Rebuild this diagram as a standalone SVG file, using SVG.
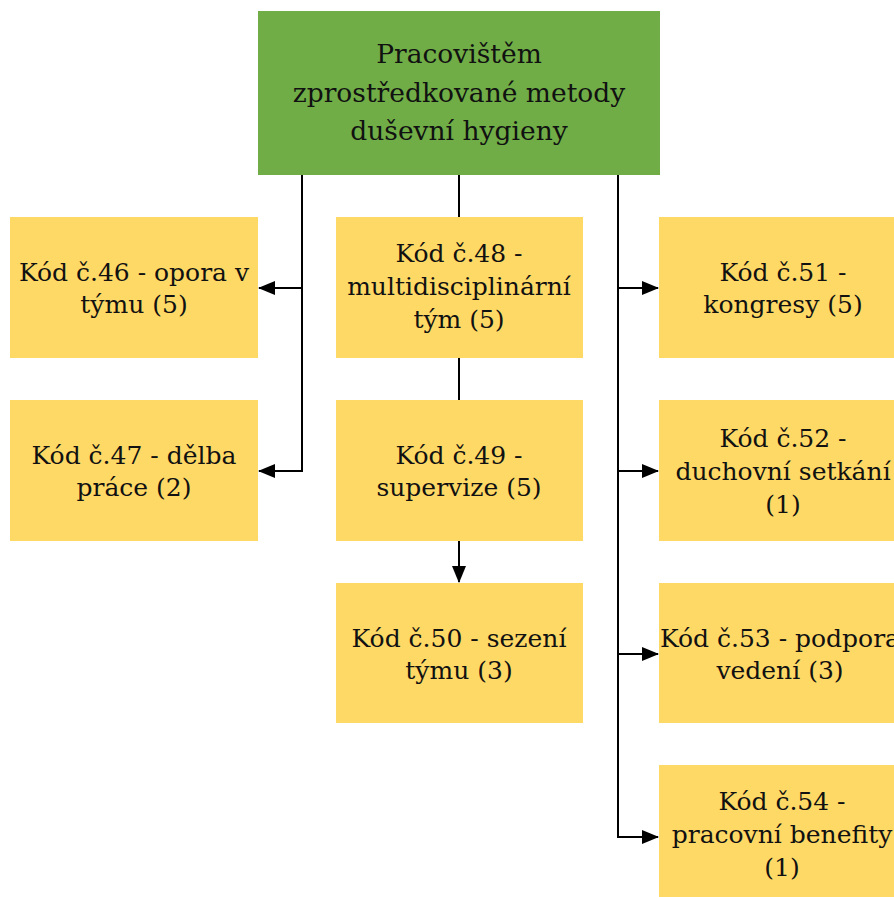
<svg xmlns="http://www.w3.org/2000/svg" width="894" height="897" viewBox="0 0 894 897">
<style>
.box{fill:#FFD966}
.root{fill:#70AD47}
text{font-family:'DejaVu Serif','Liberation Serif',serif;fill:#111;text-anchor:middle}
.t{font-size:25px}
.tr{font-size:26.5px}
.c{stroke:#000;stroke-width:2;fill:none}
</style>
<defs>
<marker id="ah" markerUnits="userSpaceOnUse" markerWidth="17" markerHeight="14" refX="16" refY="7" orient="auto">
<path d="M0,0 L17,7 L0,14 z" fill="#000"/>
</marker>
</defs>
<rect width="894" height="897" fill="#fff"/>
<g id="connectors">
<path class="c" d="M302,175 V472"/>
<path class="c" d="M303,288 H259" marker-end="url(#ah)"/>
<path class="c" d="M303,471 H259" marker-end="url(#ah)"/>
<path class="c" d="M459,175 V217"/>
<path class="c" d="M459,358 V400"/>
<path class="c" d="M459,541 V582" marker-end="url(#ah)"/>
<path class="c" d="M618,175 V838"/>
<path class="c" d="M617,288 H658" marker-end="url(#ah)"/>
<path class="c" d="M617,471 H658" marker-end="url(#ah)"/>
<path class="c" d="M617,654 H658" marker-end="url(#ah)"/>
<path class="c" d="M617,837 H658" marker-end="url(#ah)"/>
</g>
<g id="root">
<rect class="root" x="258" y="11" width="402" height="164"/>
<text class="tr" x="459" y="63">Pracovištěm</text>
<text class="tr" x="459" y="102">zprostředkované metody</text>
<text class="tr" x="459" y="140">duševní hygieny</text>
</g>
<g id="k46">
<rect class="box" x="10" y="217" width="248" height="141"/>
<text class="t" x="134" y="281">Kód č.46 - opora v</text>
<text class="t" x="134" y="313">týmu (5)</text>
</g>
<g id="k47">
<rect class="box" x="10" y="400" width="248" height="141"/>
<text class="t" x="134" y="464">Kód č.47 - dělba</text>
<text class="t" x="134" y="496">práce (2)</text>
</g>
<g id="k48">
<rect class="box" x="336" y="217" width="247" height="141"/>
<text class="t" x="459" y="262">Kód č.48 -</text>
<text class="t" x="459" y="295">multidisciplinární</text>
<text class="t" x="459" y="328">tým (5)</text>
</g>
<g id="k49">
<rect class="box" x="336" y="400" width="247" height="141"/>
<text class="t" x="459" y="464">Kód č.49 -</text>
<text class="t" x="459" y="496">supervize (5)</text>
</g>
<g id="k50">
<rect class="box" x="336" y="583" width="247" height="140"/>
<text class="t" x="459" y="647">Kód č.50 - sezení</text>
<text class="t" x="459" y="679">týmu (3)</text>
</g>
<g id="k51">
<rect class="box" x="659" y="217" width="248" height="141"/>
<text class="t" x="783" y="281">Kód č.51 -</text>
<text class="t" x="783" y="313">kongresy (5)</text>
</g>
<g id="k52">
<rect class="box" x="659" y="400" width="248" height="141"/>
<text class="t" x="783" y="447">Kód č.52 -</text>
<text class="t" x="783" y="480">duchovní setkání</text>
<text class="t" x="783" y="513">(1)</text>
</g>
<g id="k53">
<rect class="box" x="659" y="583" width="248" height="140"/>
<text class="t" x="780" y="647">Kód č.53 - podpora</text>
<text class="t" x="780" y="679">vedení (3)</text>
</g>
<g id="k54">
<rect class="box" x="659" y="765" width="248" height="141"/>
<text class="t" x="782" y="810">Kód č.54 -</text>
<text class="t" x="782" y="843">pracovní benefity</text>
<text class="t" x="782" y="876">(1)</text>
</g>
</svg>
